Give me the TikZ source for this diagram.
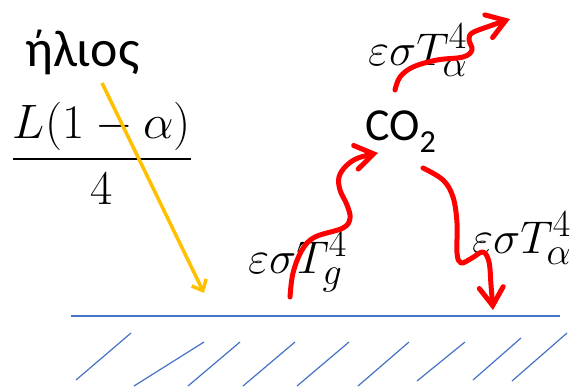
\documentclass[tikz,border=0pt]{standalone}
\usepackage{amsmath}
\usepackage{graphicx}
\usepackage{fontspec}
\setmainfont{Carlito}
\usetikzlibrary{arrows.meta}
\definecolor{ground}{HTML}{4472C4}
\definecolor{sun}{HTML}{FFC000}
\definecolor{heat}{HTML}{FF0000}
\newcommand{\bigmath}[2][1.85]{\scalebox{#1}{\Huge$#2$}}
\begin{document}
\begin{tikzpicture}[x=1bp,y=-1bp,
  lbl/.style={inner sep=0pt},
  txt/.style={inner sep=0pt,font=\fontsize{46}{52}\selectfont},
  wave/.style={draw=heat,line width=5bp,line cap=round,line join=round,
    -{Straight Barb[length=18bp,width=24bp,line cap=round]}},
  ray/.style={draw=sun,line width=3.5bp,-{Straight Barb[length=9bp,width=16bp]}},
  hatch/.style={draw=ground,line width=1.2bp}]
\useasboundingbox (0,0) rectangle (572,387);
% texts
\node[txt,anchor=base west,font=\fontsize{52}{58}\selectfont] (helios) at (25,66) {ήλιος};
\node[lbl,anchor=base] (frac) at (102,171) {\bigmath[1.95]{\dfrac{L(1-\alpha)}{4}}};
\node[txt,anchor=base west] (co2) at (365,140) {CO\textsubscript{2}};
\node[lbl,anchor=base west] (up) at (368,65) {\bigmath{\varepsilon\sigma T_\alpha^4}};
\node[lbl,anchor=base west] (gr) at (248,273) {\bigmath{\varepsilon\sigma T_g^4}};
\node[lbl,anchor=base west] (down) at (472,253) {\bigmath{\varepsilon\sigma T_\alpha^4}};
% ground
\coordinate (gl) at (71,316);
\coordinate (gr2) at (560,316);
\draw[ground,line width=1.3bp] (gl) -- (gr2);
\foreach \a/\b/\c/\d in {76/380/131/333,134/386/204/342,188/386/240/342,243/386/295/342,297/386/349/342,358/386/409/342,417/381/465/342,473/380/521/338,512/381/567/333}
  \draw[hatch] (\a,\b) -- (\c,\d);
% sun ray
\coordinate (sunA) at (102,83);
\coordinate (sunB) at (204,293);
\draw[ray] (sunA) -- (sunB);
% wavy arrows
\draw[wave] plot[smooth,tension=0.6] coordinates {(290,297) (293,273) (302,250) (315,237) (343,228) (350,218) (347,205) (340,190) (339,177) (346,166) (358,158) (378,153)};
\draw[wave] plot[smooth,tension=0.6] coordinates {(423,168) (443,180) (453,197) (457,223) (457,253) (461,263) (472,258) (483,252) (489,262) (491,285) (493,310)};
\draw[wave] plot[smooth,tension=0.6] coordinates {(395,90) (400,77) (413,67) (437,60) (463,57) (472,50) (469,40) (472,33) (487,27) (510,19)};
\end{tikzpicture}
\end{document}
